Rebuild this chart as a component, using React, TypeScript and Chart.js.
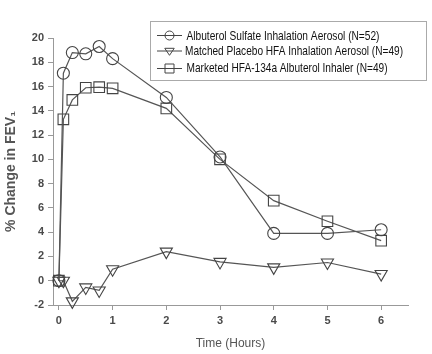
import React, { useEffect, useRef } from "react";
import { Chart, registerables } from "chart.js";

Chart.register(...registerables);

const times = [0, 0.083, 0.25, 0.5, 0.75, 1, 2, 3, 4, 5, 6];
const albuterol = [0, 17.1, 18.8, 18.7, 19.3, 18.3, 15.1, 10.2, 3.9, 3.9, 4.2];
const placebo = [0, 0, -1.7, -0.55, -0.8, 0.95, 2.4, 1.55, 1.1, 1.5, 0.55];
const marketed = [0, 13.3, 14.9, 15.9, 15.95, 15.85, 14.2, 10.0, 6.6, 4.9, 3.3];
const seriesLabels = [
  "Albuterol Sulfate Inhalation Aerosol (N=52)",
  "Matched Placebo HFA Inhalation Aerosol (N=49)",
  "Marketed HFA-134a Albuterol Inhaler (N=49)",
];
const xTicks = [0, 1, 2, 3, 4, 5, 6];
const yTicks = [-2, 0, 2, 4, 6, 8, 10, 12, 14, 16, 18, 20];

const LINE = "#555";
const MARK = "#444";
const TEXT = "#4a4a4a";
const AXIS = "#999";

function pts(vals: number[]) {
  return times.map((t, i) => ({ x: t, y: vals[i] }));
}

function drawMarker(ctx: CanvasRenderingContext2D, kind: string, x: number, y: number, r: number) {
  ctx.beginPath();
  if (kind === "circle") {
    ctx.arc(x, y, r, 0, Math.PI * 2);
  } else if (kind === "rect") {
    ctx.rect(x - r, y - r, 2 * r, 2 * r);
  } else {
    const h = r * 1.2;
    ctx.moveTo(x - r * 1.05, y - h * 0.5);
    ctx.lineTo(x + r * 1.05, y - h * 0.5);
    ctx.lineTo(x, y + h * 0.8);
    ctx.closePath();
  }
  ctx.stroke();
}

const legendPlugin = {
  id: "customLegend",
  afterDraw(chart: any) {
    const ctx = chart.ctx as CanvasRenderingContext2D;
    ctx.save();
    ctx.strokeStyle = "#aaa";
    ctx.lineWidth = 1;
    ctx.strokeRect(150.5, 21.5, 276, 59);
    const kinds = ["circle", "triangle", "rect"];
    const markY = [35.5, 51, 68.5];
    const textY = [36.5, 51, 68];
    const textX = [186.5, 185, 186.5];
    const textW = [193, 218, 201];
    ctx.font = "13px Arial, 'Liberation Sans', sans-serif";
    ctx.textBaseline = "middle";
    ctx.textAlign = "left";
    for (let i = 0; i < 3; i++) {
      ctx.strokeStyle = MARK;
      ctx.lineWidth = 1;
      ctx.beginPath();
      ctx.moveTo(157, markY[i]);
      ctx.lineTo(182, markY[i]);
      ctx.stroke();
      drawMarker(ctx, kinds[i], 169.5, markY[i], 4.5);
      ctx.fillStyle = "#111";
      const w = ctx.measureText(seriesLabels[i]).width;
      ctx.save();
      ctx.translate(textX[i], textY[i]);
      ctx.scale(textW[i] / w, 1);
      ctx.fillText(seriesLabels[i], 0, 0);
      ctx.restore();
    }
    ctx.restore();
  },
};

export default function App() {
  const ref = useRef<HTMLCanvasElement>(null);
  useEffect(() => {
    if (!ref.current) return;
    const common = {
      borderColor: LINE,
      borderWidth: 1.2,
      pointBorderColor: MARK,
      pointBackgroundColor: "rgba(0,0,0,0)",
      pointBorderWidth: 1.1,
      showLine: true,
      tension: 0,
      clip: false as any,
    };
    const chart = new Chart(ref.current, {
      type: "scatter",
      data: {
        datasets: [
          { ...common, label: seriesLabels[0], data: pts(albuterol), pointStyle: "circle", pointRadius: 6 },
          { ...common, label: seriesLabels[1], data: pts(placebo), pointStyle: "triangle", pointRotation: 180, pointRadius: 7 },
          { ...common, label: seriesLabels[2], data: pts(marketed), pointStyle: "rect", pointRadius: 7.5 },
        ],
      },
      options: {
        animation: false,
        responsive: false,
        layout: { padding: { top: 38, right: 24, left: 0, bottom: 0 } },
        plugins: { legend: { display: false }, tooltip: { enabled: false } },
        scales: {
          x: {
            type: "linear",
            min: -0.11,
            max: 6.5,
            afterFit: (s: any) => { s.height = 49; },
            afterBuildTicks: (s: any) => { s.ticks = xTicks.map((v) => ({ value: v })); },
            ticks: { color: TEXT, font: { family: "Arial, 'Liberation Sans', sans-serif", size: 11, weight: "bold" }, padding: 4 },
            grid: { display: true, drawOnChartArea: false, color: AXIS, tickLength: 5 },
            border: { display: true, color: AXIS, width: 1 },
            title: { display: true, text: "Time (Hours)", color: "#555", font: { family: "Arial, 'Liberation Sans', sans-serif", size: 12 }, padding: { top: 0, bottom: 3 } },
          },
          y: {
            type: "linear",
            min: -2,
            max: 20,
            afterFit: (s: any) => { s.width = 53; },
            afterBuildTicks: (s: any) => { s.ticks = yTicks.map((v) => ({ value: v })); },
            ticks: { color: TEXT, font: { family: "Arial, 'Liberation Sans', sans-serif", size: 11, weight: "bold" }, padding: 4 },
            grid: { display: true, drawOnChartArea: false, color: AXIS, tickLength: 5 },
            border: { display: true, color: AXIS, width: 1 },
            title: { display: true, text: "% Change in FEV\u2081", color: "#555", font: { family: "Arial, 'Liberation Sans', sans-serif", size: 14, weight: "bold" }, padding: { top: 3, bottom: 0 } },
          },
        },
      },
      plugins: [legendPlugin],
    } as any);
    return () => chart.destroy();
  }, []);
  return (
    <div style={{ position: "fixed", left: 0, top: 0, width: 432, height: 354, background: "#fff" }}>
      <canvas ref={ref} width={432} height={354} style={{ width: 432, height: 354, display: "block" }} />
    </div>
  );
}
